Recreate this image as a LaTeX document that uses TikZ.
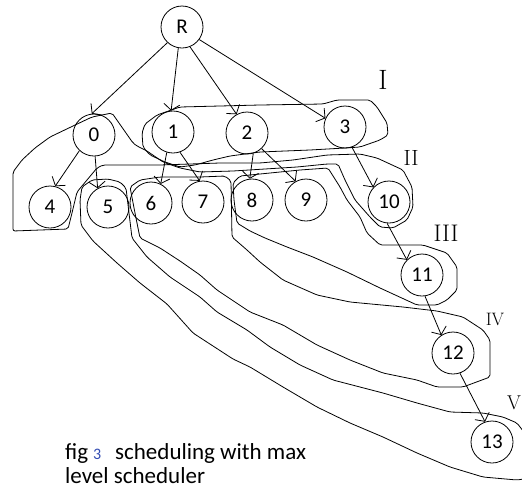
\documentclass[tikz,border=0pt]{standalone}
\usepackage{fontspec}
\newfontfamily\calfont{Carlito}
\usetikzlibrary{arrows.meta}
\definecolor{figblue}{rgb}{0.2,0.3,0.7}
\tikzset{
  vtx/.style={draw, circle, minimum size=42pt, inner sep=0pt, line width=0.8pt,
              font=\calfont\fontsize{21}{21}\selectfont},
  arr/.style={line width=0.8pt, -{Straight Barb[length=6pt,width=16pt,line width=0.8pt]}},
  grp/.style={line width=0.8pt, rounded corners=2pt, line join=round},
  lvl/.style={font=\rmfamily\fontsize{28}{28}\selectfont, inner sep=0pt},
  captxt/.style={font=\calfont\fontsize{23}{23}\selectfont, inner sep=0pt, anchor=base west},
}
\begin{document}
\begin{tikzpicture}[x=1pt,y=-1pt]
\useasboundingbox (0,0) rectangle (522,488);
\clip (0,0) rectangle (522,488);

% nodes
\node[vtx] (R) at (182,27) {R};
\node[vtx] (n0) at (94,135) {0};
\node[vtx] (n1) at (173,132) {1};
\node[vtx] (n2) at (247,133) {2};
\node[vtx] (n3) at (345,127) {3};
\node[vtx] (n4) at (50,207) {4};
\node[vtx] (n5) at (108,207) {5};
\node[vtx] (n6) at (151,203) {6};
\node[vtx] (n7) at (203,202) {7};
\node[vtx] (n8) at (252,200) {8};
\node[vtx] (n9) at (306,200) {9};
\node[vtx] (n10) at (389,202) {10};
\node[vtx] (n11) at (422,275) {11};
\node[vtx] (n12) at (453,353) {12};
\node[vtx] (n13) at (492,442) {13};

% edges
\draw[arr] (R.-133) -- (n0.96);
\draw[arr] (R.-100) -- (n1.95);
\draw[arr] (R.-68) -- (n2.119);
\draw[arr] (R.-36) -- (n3.156);
\draw[arr] (n0.-133) -- (n4.76);
\draw[arr] (n0.-87) -- (n5.119);
\draw[arr] (n1.-107) -- (n6.63);
\draw[arr] (n1.-71) -- (n7.99);
\draw[arr] (n2.-73) -- (n8.96);
\draw[arr] (n2.-47) -- (n9.119);
\draw[arr] (n3.-71) -- (n10.137);
\draw[arr] (n10.-95) -- (n11.135);
\draw[arr] (n11.-82) -- (n12.123);
\draw[arr] (n12.-71) -- (n13.109);

% group I
\draw[grp] (142,133) -- (145,124) -- (157,115) -- (180,107) -- (260,105) -- (323,104) -- (337,100) -- (370,100) -- (377,107) -- (387,123) -- (388,135) -- (380,140) -- (360,147) -- (345,148) -- (310,150) -- (260,152) -- (230,156) -- (213,160) -- (195,165) -- (180,167) -- (165,162) -- (150,155) -- (143,147) -- cycle;
% group II
\draw[grp] (92,117) -- (73,126) -- (50,137) -- (35,148) -- (22,160) -- (13,172) -- (13,231) -- (68,229) -- (72,213) -- (77,192) -- (87,180) -- (97,168) -- (103,165) -- (160,165) -- (220,163) -- (260,163) -- (293,160) -- (327,155) -- (360,154) -- (377,158) -- (403,170) -- (412,187) -- (413,207) -- (407,220) -- (393,228) -- (380,227) -- (370,217) -- (355,200) -- (345,180) -- (338,164) -- (327,164) -- (297,167) -- (233,171) -- (200,172) -- (180,168) -- (163,162) -- (147,151) -- (137,146) -- (133,143) -- (112,113) -- cycle;
% group III
\draw[grp] (233,183) -- (240,176) -- (270,173) -- (300,170) -- (328,168) -- (340,187) -- (347,200) -- (360,217) -- (367,233) -- (380,245) -- (423,245) -- (447,253) -- (457,267) -- (457,290) -- (447,300) -- (437,305) -- (417,305) -- (380,288) -- (347,272) -- (313,257) -- (287,247) -- (265,238) -- (250,231) -- (237,223) -- (234,200) -- cycle;
% group IV
\draw[grp] (130,187) -- (140,180) -- (160,177) -- (200,177) -- (225,176) -- (231,181) -- (232,237) -- (247,250) -- (260,262) -- (283,280) -- (317,295) -- (350,302) -- (403,307) -- (437,311) -- (463,317) -- (483,330) -- (490,340) -- (490,377) -- (463,387) -- (437,387) -- (417,380) -- (383,373) -- (350,360) -- (317,345) -- (283,325) -- (250,312) -- (217,290) -- (200,275) -- (180,261) -- (160,248) -- (140,238) -- (135,213) -- cycle;
% group V
\draw[grp] (80,200) -- (82,187) -- (92,180) -- (108,179) -- (120,182) -- (126,188) -- (129,213) -- (132,238) -- (147,257) -- (170,277) -- (200,297) -- (217,312) -- (247,330) -- (270,347) -- (300,365) -- (333,380) -- (383,393) -- (417,403) -- (450,412) -- (483,413) -- (503,417) -- (517,423) -- (530,440) -- (530,478) -- (517,480) -- (483,477) -- (450,467) -- (417,453) -- (383,437) -- (350,423) -- (317,407) -- (283,387) -- (250,367) -- (233,359) -- (193,333) -- (167,304) -- (140,283) -- (117,263) -- (93,241) -- (81,225) -- cycle;

% level labels
\node[lvl] (lI) at (383,80) {I};
\node[lvl, font=\rmfamily\fontsize{22}{22}\selectfont] (lII) at (411,158) {II};
\node[lvl, font=\rmfamily\fontsize{24}{24}\selectfont] (lIII) at (446,233) {III};
\node[lvl, font=\rmfamily\fontsize{18}{18}\selectfont] (lIV) at (495,319) {IV};
\node[lvl, font=\rmfamily\fontsize{20}{20}\selectfont] (lV) at (514,403) {V};

% caption
\node[captxt] (c1) at (65,459) {fig};
\node[captxt, font=\calfont\fontsize{16}{16}\selectfont, text=figblue] (c2) at (93,459) {3};
\node[captxt] (c3) at (115,459) {scheduling with max};
\node[captxt] (c4) at (65,483) {level scheduler};
\end{tikzpicture}
\end{document}
